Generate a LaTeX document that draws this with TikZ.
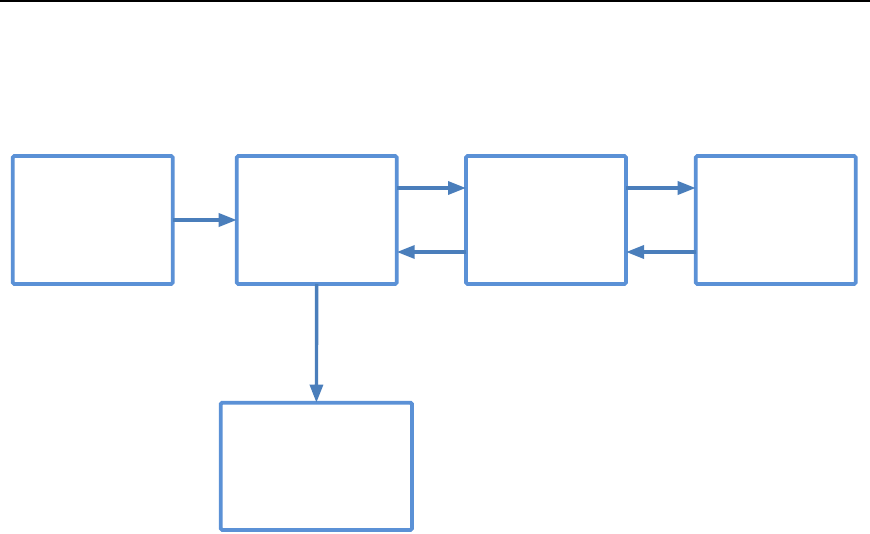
\documentclass[tikz,border=0pt]{standalone}
\usetikzlibrary{arrows.meta}
\definecolor{boxblue}{HTML}{5B91D6}
\definecolor{arrblue}{HTML}{4A7EBB}
\begin{document}
\begin{tikzpicture}[x=1pt,y=-1pt,
  blk/.style={draw=boxblue, line width=3.8pt, minimum width=160pt, minimum height=128pt, inner sep=0pt, outer sep=0pt, rounded corners=1.5pt, fill=white},
  conn/.style={draw=arrblue, line width=3.4pt, -{Triangle[length=18pt,width=13pt]}}
]
\useasboundingbox (0,0) rectangle (870,534);
\coordinate (tl) at (0,1);
\coordinate (tr) at (870,1);
\draw[line width=1.8pt] (tl) -- (tr);
\node[blk] (b1) at (92.7,220) {};
\node[blk] (b2) at (316.7,220) {};
\node[blk] (b3) at (546,220) {};
\node[blk] (b4) at (775.7,220) {};
\node[blk, minimum width=191.3pt, minimum height=127.3pt] (b5) at (316.4,466.3) {};
\draw[conn] (b1.east) -- (b2.west);
\draw[conn] (b2.east |- 0,188) -- (b3.west |- 0,188);
\draw[conn] (b3.west |- 0,252) -- (b2.east |- 0,252);
\draw[conn] (b3.east |- 0,188) -- (b4.west |- 0,188);
\draw[conn] (b4.west |- 0,252) -- (b3.east |- 0,252);
\draw[conn] (b2.south) -- (b5.north);
\end{tikzpicture}
\end{document}
